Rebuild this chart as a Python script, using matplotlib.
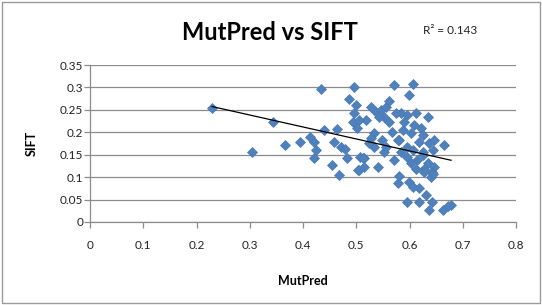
import numpy as np
import matplotlib
matplotlib.use("Agg")
import matplotlib.pyplot as plt
from matplotlib.patches import Rectangle

mutpred = [0.229, 0.305, 0.344, 0.367, 0.394, 0.414, 0.420, 0.424, 0.420, 0.433,
           0.439, 0.454, 0.467, 0.463, 0.458, 0.471, 0.478, 0.483, 0.495, 0.486,
           0.499, 0.495, 0.493, 0.502, 0.507, 0.504, 0.570, 0.606, 0.599, 0.527,
           0.537, 0.546, 0.556, 0.561, 0.552, 0.561, 0.518, 0.584, 0.596, 0.612,
           0.634, 0.587, 0.533, 0.527, 0.549, 0.603, 0.580, 0.618, 0.637, 0.665,
           0.596, 0.533, 0.552, 0.514, 0.514, 0.540, 0.571, 0.596, 0.615, 0.634,
           0.646, 0.603, 0.640, 0.578, 0.599, 0.618, 0.631, 0.596, 0.618, 0.643,
           0.637, 0.662, 0.678, 0.672, 0.505, 0.574, 0.542, 0.568, 0.578, 0.524,
           0.556, 0.512, 0.505, 0.584, 0.606, 0.625, 0.644, 0.621, 0.608, 0.625,
           0.646, 0.590, 0.628, 0.642, 0.606, 0.581, 0.626, 0.628, 0.645, 0.612]
sift = [0.254, 0.157, 0.223, 0.172, 0.179, 0.190, 0.179, 0.160, 0.143, 0.296,
        0.205, 0.127, 0.104, 0.207, 0.179, 0.168, 0.163, 0.142, 0.302, 0.275,
        0.261, 0.243, 0.224, 0.209, 0.145, 0.116, 0.306, 0.308, 0.284, 0.257,
        0.246, 0.250, 0.257, 0.269, 0.235, 0.224, 0.228, 0.243, 0.239, 0.243,
        0.234, 0.205, 0.198, 0.187, 0.183, 0.198, 0.183, 0.179, 0.177, 0.171,
        0.168, 0.168, 0.157, 0.143, 0.123, 0.123, 0.138, 0.145, 0.138, 0.131,
        0.123, 0.131, 0.101, 0.086, 0.090, 0.075, 0.060, 0.045, 0.045, 0.045,
        0.026, 0.026, 0.037, 0.035, 0.228, 0.243, 0.235, 0.201, 0.183, 0.176,
        0.168, 0.142, 0.116, 0.156, 0.160, 0.156, 0.160, 0.210, 0.216, 0.194,
        0.183, 0.223, 0.119, 0.112, 0.078, 0.102, 0.150, 0.112, 0.108, 0.118]

x_ticks = [0, 0.1, 0.2, 0.3, 0.4, 0.5, 0.6, 0.7, 0.8]
y_ticks = [0, 0.05, 0.1, 0.15, 0.2, 0.25, 0.3, 0.35]
x_labels = ["0", "0.1", "0.2", "0.3", "0.4", "0.5", "0.6", "0.7", "0.8"]
y_labels = ["0", "0.05", "0.1", "0.15", "0.2", "0.25", "0.3", "0.35"]

plt.rcParams['font.family'] = ['Lato', 'DejaVu Sans']

fig = plt.figure(figsize=(5.42, 3.05), dpi=100)
fig.patch.set_facecolor("white")
ax = fig.add_axes([90/542, 1-222/305, (516-90)/542, (222-65)/305])

grid_c = "#8c8c8c"
ax.set_xlim(0, 0.8)
ax.set_ylim(0, 0.35)
ax.set_xticks(x_ticks)
ax.set_xticklabels(x_labels)
ax.set_yticks(y_ticks)
ax.set_yticklabels(y_labels)
ax.yaxis.grid(True, color=grid_c, linewidth=0.9)
ax.set_axisbelow(True)
for s in ["top", "right"]:
    ax.spines[s].set_visible(False)
for s in ["left", "bottom"]:
    ax.spines[s].set_color(grid_c)
    ax.spines[s].set_linewidth(0.9)
ax.tick_params(axis="both", colors=grid_c, length=4, width=0.9, labelcolor="#222222",
               labelsize=8.5)
ax.tick_params(axis="x", pad=9)
ax.tick_params(axis="y", pad=1)

ax.plot(mutpred, sift, linestyle="none", marker="D", markersize=5.6,
        color="#4f81bd", markeredgecolor="#4a7ab5", markeredgewidth=0.5, zorder=3)

coef = np.polyfit(mutpred, sift, 1)
xs = np.array([min(mutpred), max(mutpred)])
ax.plot(xs, np.polyval(coef, xs), color="black", linewidth=0.9, zorder=4)

ax.set_xlabel("MutPred", fontsize=9, fontweight="bold", labelpad=17)
ax.set_ylabel("SIFT", fontsize=9, fontweight="bold", labelpad=16)

fig.text(270/542, 1-32/305, "MutPred vs SIFT", ha="center", va="center",
         fontsize=17, fontweight="bold")
fig.text(450/542, 1-30/305, "R² = 0.143", ha="center", va="center", fontsize=8.5,
         color="#222222")

fig.patches.append(Rectangle((0.004, 0.006), 0.992, 0.988, transform=fig.transFigure,
                             fill=False, edgecolor="#9a9a9a", linewidth=1.0))

fig.savefig("out.png", dpi=100)
